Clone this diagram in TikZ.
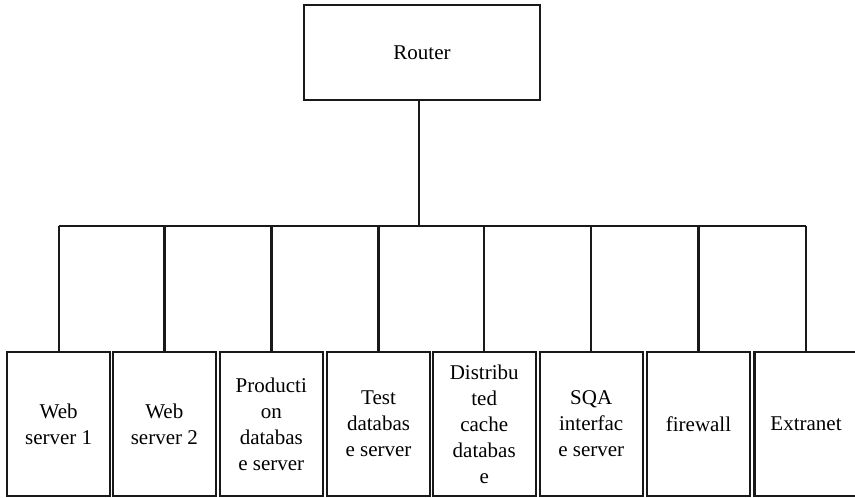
\documentclass[tikz,border=0pt]{standalone}
\usepackage{fontspec}
\setmainfont{Liberation Serif}
\begin{document}
\begin{tikzpicture}[x=1pt,y=-1pt,
  wire/.style={line width=2.4pt,draw=black!90},
  unit/.style={wire,rectangle,minimum width=103pt,minimum height=144pt,
    inner sep=0pt,align=center,font=\fontsize{21}{26}\selectfont},
  hub/.style={wire,rectangle,minimum width=236pt,minimum height=95pt,
    inner sep=0pt,font=\fontsize{21}{26}\selectfont}]
\useasboundingbox (0,0) rectangle (855,498);
\clip (0,0) rectangle (855,498);
\fill[white] (0,0) rectangle (855,498);

% top-level router
\node[hub] (router) at (422,52.5) {Router};

% attached hosts
\node[unit] (h1) at (58.7,424)  {Web\\server 1};
\node[unit] (h2) at (164.3,424) {Web\\server 2};
\node[unit] (h3) at (271.3,424) {Producti\\on\\databas\\e server};
\node[unit] (h4) at (378.5,424) {Test\\databas\\e server};
\node[unit] (h5) at (484.2,424) {Distribu\\ted\\cache\\databas\\e};
\node[unit] (h6) at (591.2,424) {SQA\\interfac\\e server};
\node[unit] (h7) at (698.5,424) {firewall};
\node[unit] (h8) at (806,424)   {Extranet};

% shared bus
\coordinate (bus) at (0,226);
\coordinate (up) at ([xshift=-3pt]router.south);
\draw[wire] (up) -- (up |- bus);
\draw[wire] (h1.north |- bus) -- (h8.north |- bus);
\foreach \h in {h1,h2,h3,h4,h5,h6,h7,h8}
  \draw[wire] (\h.north) -- (\h.north |- bus);
\end{tikzpicture}
\end{document}
